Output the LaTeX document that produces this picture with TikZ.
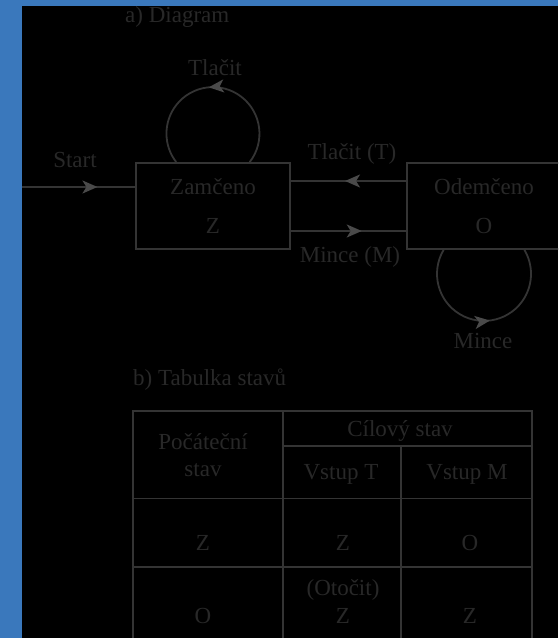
\documentclass[tikz,border=0pt]{standalone}
\usepackage{fontspec}
\setmainfont{Liberation Serif}
\usetikzlibrary{arrows.meta,decorations.markings}
\definecolor{bgblue}{RGB}{58,120,188}
\definecolor{ink}{RGB}{40,40,40}
\definecolor{linegray}{RGB}{52,52,52}
\definecolor{tipgray}{RGB}{74,74,74}
\begin{document}
\begin{tikzpicture}[x=1pt,y=1pt,
  tipat/.style={postaction={decorate,decoration={markings,
    mark=at position #1 with {\arrow[tipgray]{Stealth[length=15pt,width=13pt,inset=4pt]}}}}}]
\tikzstyle{every node}+=[inner sep=0pt,text=ink,font=\fontsize{23}{39}\selectfont]
\tikzstyle{state}=[draw=linegray,line width=1.8pt,minimum width=154pt,minimum height=86pt,align=center]
\tikzstyle{rule}=[draw=linegray,line width=1.8pt]
\tikzstyle{lbl}=[anchor=base]
\useasboundingbox (0,0) rectangle (558,638);
\clip (0,0) rectangle (558,638);
\fill [bgblue] (0,0) rectangle (558,638);
\fill [black] (22,0) rectangle (558,632);
% a) diagram
\node [lbl,anchor=base west] (titlea) at (125,615) {a) Diagram};
\node [state] (zam) at (213,432) {Zamčeno\\Z};
\node [state] (odem) at (484,432) {Odemčeno\\O};
\coordinate (start) at (22,451);
\node [lbl] (lstart) at (75,470) {Start};
\node [lbl] (lpush) at (215,562) {Tlačit};
\node [lbl] (lpusht) at (352,478) {Tlačit (T)};
\node [lbl] (lcoinm) at (350,375) {Mince (M)};
\node [lbl] (lcoin) at (483,289) {Mince};
\draw [rule,tipat=0.667] (start) -- ([yshift=19pt]zam.west);
\draw [rule,tipat=0.53] ([yshift=25pt]odem.west) -- ([yshift=25pt]zam.east);
\draw [rule,tipat=0.615] ([yshift=-25pt]zam.east) -- ([yshift=-25pt]odem.west);
\draw [rule,tipat=0.52] ([xshift=36.7pt]zam.north) arc [start angle=-37.8,end angle=217.8,radius=46.5pt];
\draw [rule,tipat=0.53] ([xshift=-40.4pt]odem.south) arc [start angle=149.3,end angle=390.7,radius=47pt];
% b) table
\node [lbl,anchor=base west] (titleb) at (133,252) {b) Tabulka stavů};
\draw [rule] (133,-5) -- (133,227) -- (532,227) -- (532,-5);
\draw [rule] (283,192) -- (532,192);
\draw [rule] (133,139.5) -- (532,139.5);
\draw [rule] (133,71) -- (532,71);
\draw [rule] (283,-5) -- (283,227);
\draw [rule] (401,-5) -- (401,192);
\node [lbl] (hstart1) at (203,188) {Počáteční};
\node [lbl] (hstart2) at (203,161) {stav};
\node [lbl] (htarget) at (400,201) {Cílový stav};
\node [lbl] (hint) at (341,158) {Vstup T};
\node [lbl] (hinm) at (467,158) {Vstup M};
\node [lbl] (rzs) at (203,87) {Z};
\node [lbl] (rzt) at (343,87) {Z};
\node [lbl] (rzm) at (470,87) {O};
\node [lbl] (ros) at (203,15) {O};
\node [lbl] (rot1) at (343,42) {(Otočit)};
\node [lbl] (rot2) at (343,15) {Z};
\node [lbl] (rom) at (470,15) {Z};
\end{tikzpicture}
\end{document}
